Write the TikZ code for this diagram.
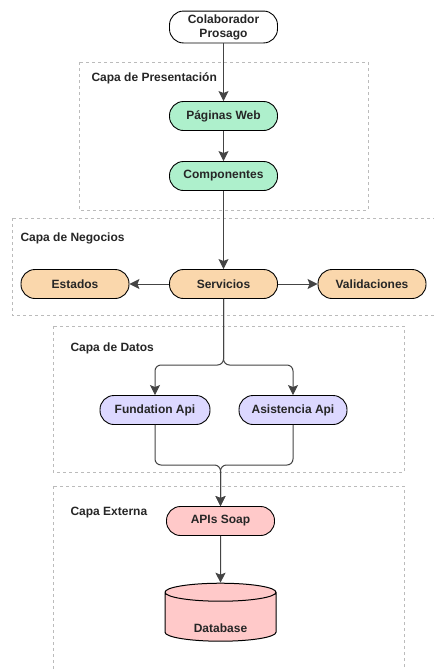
\documentclass[tikz,border=0pt]{standalone}
\usepackage{fontspec}
\setmainfont{Liberation Sans}
\usetikzlibrary{shapes.geometric,arrows.meta,positioning}
\definecolor{verde}{HTML}{AEF0CC}
\definecolor{naranja}{HTML}{FAD7AC}
\definecolor{lila}{HTML}{DCD8FF}
\definecolor{rosa}{HTML}{FFC9C9}
\definecolor{linea}{HTML}{444444}
\definecolor{capa}{HTML}{BBBBBB}

\begin{document}
\begin{tikzpicture}[x=1pt, y=-1pt,
    font=\bfseries\fontsize{12}{14}\selectfont,
    % General options for the pill nodes
    pill/.style={draw, line width=0.9pt,
      rounded corners=14pt,
      minimum width=108pt, minimum height=29pt,
      text=black!85, align=center},
    % Colours for each layer
    pres/.style={pill, fill=verde},
    neg/.style={pill, fill=naranja},
    dat/.style={pill, fill=lila},
    ext/.style={pill, fill=rosa},
    db/.style={cylinder, shape border rotate=90, aspect=0.3,
      draw, line width=1pt, fill=rosa, text=black!85,
      minimum width=111pt, minimum height=58pt},
    capabox/.style={draw=capa, line width=0.8pt, dash pattern=on 3pt off 3pt},
    capatxt/.style={anchor=west, text=black!85},
    flecha/.style={draw=linea, line width=1pt, rounded corners=6pt,
      -{Stealth[length=10pt, width=10pt, inset=2pt]}}]
\useasboundingbox (0,0) rectangle (434,670);

% Layer frames
\draw[capabox] (79,62) rectangle (368,210);
\draw[capabox] (12,218) rectangle (436,315);
\draw[capabox] (53,326) rectangle (404,472);
\draw[capabox] (53,486) rectangle (404,680);
\node[capatxt] (lpres) at (88,78) {Capa de Presentación};
\node[capatxt] (lneg) at (17,238) {Capa de Negocios};
\node[capatxt] (ldat) at (67,348) {Capa de Datos};
\node[capatxt] (lext) at (67,513) {Capa Externa};

% Nodes
\node[pill, fill=white] (colab) at (223.5,27) {Colaborador\\Prosago};
\node[pres] (web) at (223.5,116) {Páginas Web};
\node[pres] (comp) at (223.5,176) {Componentes};
\node[neg] (serv) at (223.5,284) {Servicios};
\node[neg] (est) at (75,284) {Estados};
\node[neg] (val) at (372,284) {Validaciones};
\node[dat, minimum width=110pt] (fund) at (155,410) {Fundation Api};
\node[dat] (asis) at (293,410) {Asistencia Api};
\node[ext] (soap) at (220.5,521) {APIs Soap};
\node[db] (base) at (220.5,618.5) {\raisebox{-14pt}[0pt][0pt]{Database}};

% Split and join points
\coordinate (split) at (223.5,365);
\coordinate (join) at (220.5,465);

% Connectors
\draw[flecha] (colab) -- (web);
\draw[flecha] (web) -- (comp);
\draw[flecha] (comp) -- (serv);
\draw[flecha] (serv) -- (est);
\draw[flecha] (serv) -- (val);
\draw[flecha] (serv.south) -- (split) -| (fund.north);
\draw[flecha] (serv.south) -- (split) -| (asis.north);
\draw[flecha] (fund.south) |- (join) -- (soap.north);
\draw[flecha] (asis.south) |- (join) -- (soap.north);
\draw[flecha] (soap) -- (base);
\end{tikzpicture}
\end{document}
